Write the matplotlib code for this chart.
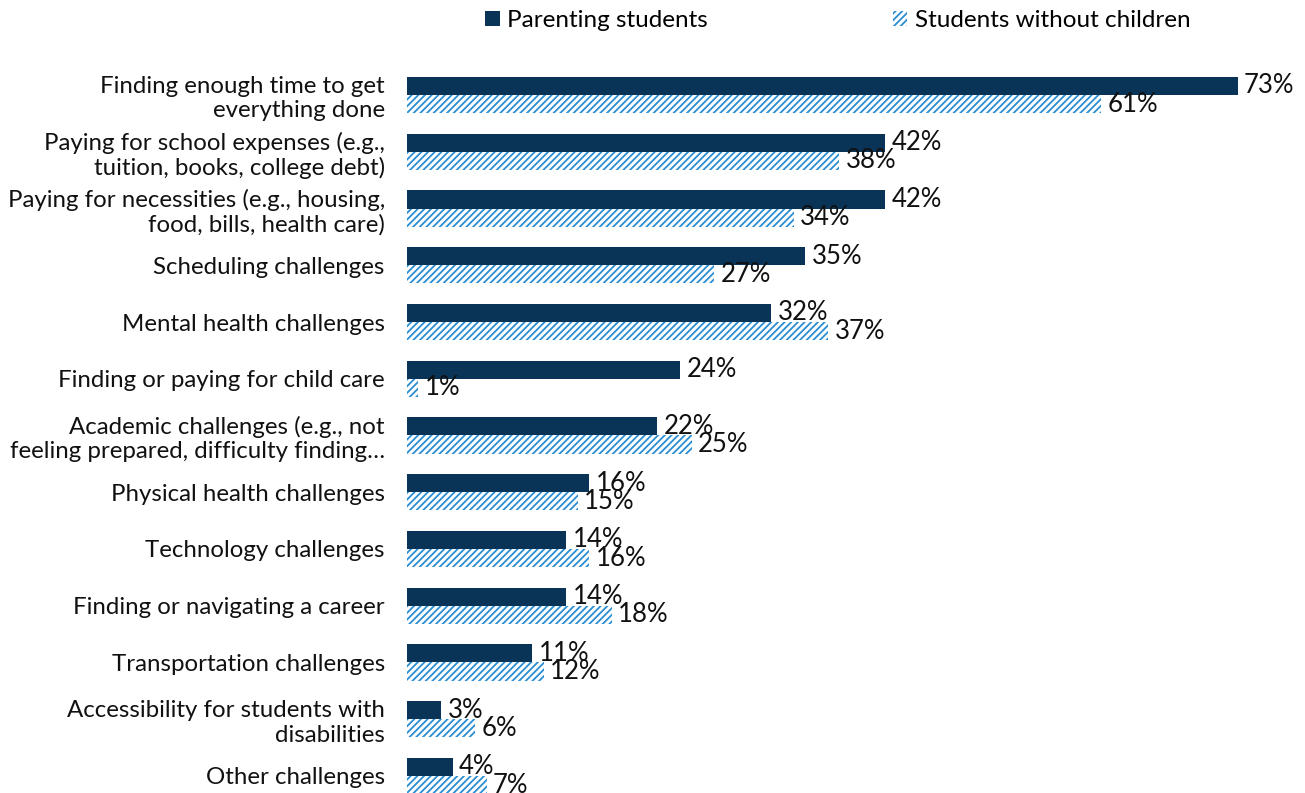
import numpy as np
import matplotlib.pyplot as plt

plt.rcParams['font.family'] = ['Lato', 'DejaVu Sans']
plt.rcParams['hatch.linewidth'] = 1.3

categories = [
    "Finding enough time to get\neverything done",
    "Paying for school expenses (e.g.,\ntuition, books, college debt)",
    "Paying for necessities (e.g., housing,\nfood, bills, health care)",
    "Scheduling challenges",
    "Mental health challenges",
    "Finding or paying for child care",
    "Academic challenges (e.g., not\nfeeling prepared, difficulty finding…",
    "Physical health challenges",
    "Technology challenges",
    "Finding or navigating a career",
    "Transportation challenges",
    "Accessibility for students with\ndisabilities",
    "Other challenges",
]
parenting = [73, 42, 42, 35, 32, 24, 22, 16, 14, 14, 11, 3, 4]
no_children = [61, 38, 34, 27, 37, 1, 25, 15, 16, 18, 12, 6, 7]

dark = '#0a3358'
blue = '#2b8dd3'

fig = plt.figure(figsize=(13.05, 7.93), dpi=100)
ax = fig.add_axes([407 / 1305, 0, 1 - 407 / 1305, (793 - 60) / 793])

y = np.arange(len(categories))
h = 0.32
b1 = ax.barh(y - h / 2, parenting, height=h, color=dark, label='Parenting students')
b2 = ax.barh(y + h / 2, no_children, height=h, color='white', edgecolor=blue,
             hatch='/////', linewidth=0, label='Students without children')

for bars, vals in ((b1, parenting), (b2, no_children)):
    for bar, v in zip(bars, vals):
        ax.text(v + 0.55, bar.get_y() + bar.get_height() / 2, f'{v}%',
                va='center', ha='left', fontsize=18.5, color='#111111')

ax.set_xlim(0, 78.9)
ax.set_ylim(12.3, -0.617)
ax.set_yticks(y)
ax.set_yticklabels(categories, fontsize=17.3, color='#111111', ha='right')
ax.tick_params(axis='y', length=0, pad=16)
ax.set_xticks([])
for s in ax.spines.values():
    s.set_visible(False)

fig.legend(handles=[b1, b2], loc='center', bbox_to_anchor=(0.642, 0.974), ncol=2,
           frameon=False, fontsize=17.5, handlelength=0.6, handleheight=0.6,
           handletextpad=0.3, columnspacing=7.6)

fig.savefig('out.png', dpi=100)
